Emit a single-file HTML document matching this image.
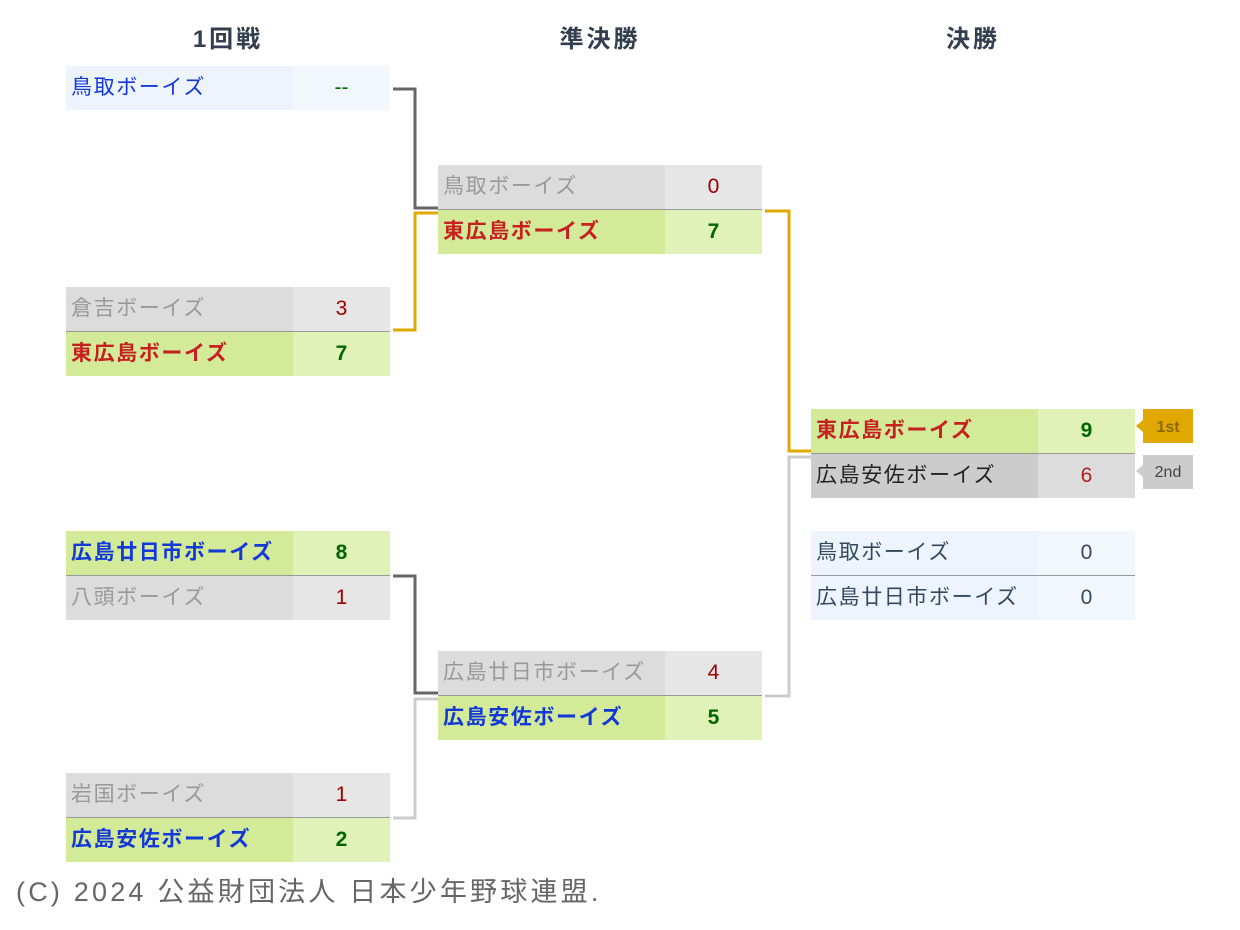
<!DOCTYPE html>
<html><head><meta charset="utf-8">
<style>
body{margin:0;width:1240px;height:930px;background:#fff;position:relative;overflow:hidden;font-family:"Liberation Sans","Noto Sans CJK JP",sans-serif;}
.h{position:absolute;top:19px;font-size:24px;font-weight:bold;color:#333e4f;width:200px;text-align:center;letter-spacing:3px}
.r{position:absolute;height:44px;width:324px;font-size:21px;line-height:44px}
.r .n{position:absolute;left:0;top:0;width:227px;height:44px;padding-left:5px;box-sizing:border-box;white-space:nowrap;letter-spacing:1.6px}
.r .s{position:absolute;left:227px;top:0;width:97px;height:44px;text-align:center}
.lo .n{background:#dcdcdc;color:#999}.lo .s{background:#e6e6e6;color:#a00000}
.wi .n{background:#d3eb98;font-weight:bold}.wi .s{background:#e0f2b8;color:#006600;font-weight:bold}
.red{color:#c62020}.blu{color:#1238d8}
.bl .n{background:#edf4fd;color:#34495e}.bl .s{background:#f2f7fd;color:#34495e}
.sec .n{background:#cccccc;color:#222}.sec .s{background:#dcdcdc;color:#b02020}
.div{position:absolute;height:1px;width:324px;background:#999}
.ln{position:absolute}
</style></head><body>
<div class="h" style="left:128px">1回戦</div>
<div class="h" style="left:500px">準決勝</div>
<div class="h" style="left:873px">決勝</div>

<div class="r bl" style="left:66px;top:66px"><div class="n" style="color:#1238d8">鳥取ボーイズ</div><div class="s" style="color:#006600">--</div></div>

<div class="r lo" style="left:66px;top:287px"><div class="n">倉吉ボーイズ</div><div class="s">3</div></div>
<div class="div" style="left:66px;top:331px"></div>
<div class="r wi" style="left:66px;top:332px"><div class="n red">東広島ボーイズ</div><div class="s">7</div></div>

<div class="r wi" style="left:66px;top:531px"><div class="n blu">広島廿日市ボーイズ</div><div class="s">8</div></div>
<div class="div" style="left:66px;top:575px"></div>
<div class="r lo" style="left:66px;top:576px"><div class="n">八頭ボーイズ</div><div class="s">1</div></div>

<div class="r lo" style="left:66px;top:773px"><div class="n">岩国ボーイズ</div><div class="s">1</div></div>
<div class="div" style="left:66px;top:817px"></div>
<div class="r wi" style="left:66px;top:818px"><div class="n blu">広島安佐ボーイズ</div><div class="s">2</div></div>

<div class="r lo" style="left:438px;top:165px"><div class="n">鳥取ボーイズ</div><div class="s">0</div></div>
<div class="div" style="left:438px;top:209px"></div>
<div class="r wi" style="left:438px;top:210px"><div class="n red">東広島ボーイズ</div><div class="s">7</div></div>

<div class="r lo" style="left:438px;top:651px"><div class="n">広島廿日市ボーイズ</div><div class="s">4</div></div>
<div class="div" style="left:438px;top:695px"></div>
<div class="r wi" style="left:438px;top:696px"><div class="n blu">広島安佐ボーイズ</div><div class="s">5</div></div>

<div class="r wi" style="left:811px;top:409px"><div class="n red">東広島ボーイズ</div><div class="s">9</div></div>
<div class="div" style="left:811px;top:453px"></div>
<div class="r sec" style="left:811px;top:454px"><div class="n">広島安佐ボーイズ</div><div class="s">6</div></div>

<div class="r bl" style="left:811px;top:531px"><div class="n">鳥取ボーイズ</div><div class="s">0</div></div>
<div class="div" style="left:811px;top:575px"></div>
<div class="r bl" style="left:811px;top:576px"><div class="n">広島廿日市ボーイズ</div><div class="s">0</div></div>

<svg class="ln" style="left:0;top:0" width="1240" height="930">
<g fill="none" stroke-width="3">
<polyline points="393,89 415,89 415,208 438,208" stroke="#666"/>
<polyline points="393,330 415,330 415,213 438,213" stroke="#e0a800"/>
<polyline points="393,576 415,576 415,693 438,693" stroke="#666"/>
<polyline points="393,818 415,818 415,699 438,699" stroke="#ccc"/>
<polyline points="765,211 789,211 789,451 811,451" stroke="#e0a800"/>
<polyline points="765,696 789,696 789,457 811,457" stroke="#ccc"/>
</g>
<polygon points="1143,420 1136,426 1143,432" fill="#e0a800"/>
<rect x="1143" y="409" width="50" height="34" fill="#e0a800"/>
<text x="1168" y="432" text-anchor="middle" font-family="Liberation Sans,sans-serif" font-size="16" font-weight="bold" fill="#8a6a00">1st</text>
<polygon points="1143,465 1136,471 1143,477" fill="#ccc"/>
<rect x="1143" y="455" width="50" height="34" fill="#ccc"/>
<text x="1168" y="477" text-anchor="middle" font-family="Liberation Sans,sans-serif" font-size="16" fill="#444">2nd</text>
</svg>

<div style="position:absolute;left:16px;top:870px;font-size:27px;letter-spacing:3.2px;color:#666;white-space:nowrap">(C) 2024 公益財団法人 日本少年野球連盟.</div>
</body></html>
